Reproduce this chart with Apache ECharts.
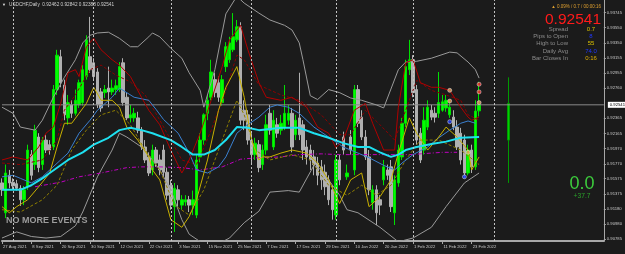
<!DOCTYPE html>
<html>
<head>
<meta charset="utf-8">
<script src="https://cdn.jsdelivr.net/npm/echarts@6/dist/echarts.min.js"></script>
<style>
  html, body { margin: 0; padding: 0; background: #1b1b1b; }
  #chart { width: 625px; height: 254px; }
</style>
</head>
<body>
<div id="chart"></div>
<script>
// USDCHF Daily, one row per bar: [open, high, low, close]
var ohlc = [
  [0.9152,0.9158,0.9135,0.9143],[0.9113,0.9176,0.9106,0.9165],[0.9162,0.9169,0.9145,0.9152],[0.9153,0.9158,0.9143,0.9148],
  [0.9151,0.9156,0.9142,0.9145],[0.9145,0.9149,0.9122,0.9130],[0.9130,0.9148,0.9123,0.9143],[0.9147,0.9202,0.9143,0.9195],
  [0.9189,0.9195,0.9156,0.9162],[0.9176,0.9228,0.9169,0.9221],[0.9212,0.9217,0.9166,0.9172],[0.9176,0.9212,0.9169,0.9208],
  [0.9208,0.9215,0.9191,0.9195],[0.9202,0.9208,0.9189,0.9195],[0.9199,0.9280,0.9195,0.9274],[0.9274,0.9326,0.9267,0.9319],
  [0.9317,0.9326,0.9277,0.9283],[0.9280,0.9287,0.9234,0.9241],[0.9237,0.9267,0.9228,0.9257],[0.9254,0.9260,0.9237,0.9243],
  [0.9243,0.9274,0.9240,0.9260],[0.9254,0.9287,0.9250,0.9283],[0.9257,0.9306,0.9253,0.9300],[0.9291,0.9345,0.9287,0.9339],
  [0.9317,0.9369,0.9296,0.9300],[0.9309,0.9315,0.9287,0.9291],[0.9297,0.9302,0.9250,0.9254],[0.9271,0.9276,0.9245,0.9250],
  [0.9270,0.9280,0.9263,0.9274],[0.9276,0.9304,0.9251,0.9271],[0.9271,0.9287,0.9267,0.9276],[0.9274,0.9287,0.9267,0.9279],
  [0.9274,0.9310,0.9271,0.9304],[0.9309,0.9315,0.9253,0.9257],[0.9264,0.9270,0.9234,0.9237],[0.9237,0.9254,0.9231,0.9241],
  [0.9237,0.9250,0.9232,0.9243],[0.9237,0.9245,0.9217,0.9221],[0.9221,0.9225,0.9195,0.9199],[0.9199,0.9208,0.9178,0.9182],
  [0.9186,0.9192,0.9161,0.9165],[0.9169,0.9202,0.9162,0.9195],[0.9195,0.9199,0.9173,0.9178],[0.9182,0.9189,0.9162,0.9169],
  [0.9195,0.9202,0.9161,0.9166],[0.9166,0.9172,0.9130,0.9136],[0.9149,0.9156,0.9117,0.9123],[0.9121,0.9152,0.9088,0.9145],
  [0.9143,0.9149,0.9121,0.9130],[0.9123,0.9136,0.9117,0.9130],[0.9127,0.9136,0.9122,0.9130],[0.9130,0.9135,0.9114,0.9123],
  [0.9123,0.9142,0.9110,0.9130],[0.9110,0.9189,0.9106,0.9182],[0.9186,0.9217,0.9179,0.9208],[0.9208,0.9243,0.9202,0.9241],
  [0.9243,0.9267,0.9234,0.9260],[0.9264,0.9313,0.9260,0.9297],[0.9287,0.9296,0.9264,0.9270],[0.9283,0.9291,0.9258,0.9264],
  [0.9257,0.9293,0.9253,0.9287],[0.9304,0.9336,0.9297,0.9330],[0.9313,0.9343,0.9309,0.9335],[0.9326,0.9374,0.9323,0.9343],
  [0.9339,0.9365,0.9336,0.9356],[0.9356,0.9362,0.9228,0.9234],[0.9247,0.9260,0.9221,0.9234],[0.9241,0.9247,0.9202,0.9208],
  [0.9208,0.9217,0.9176,0.9189],[0.9189,0.9211,0.9182,0.9204],[0.9202,0.9208,0.9166,0.9172],[0.9176,0.9202,0.9169,0.9195],
  [0.9195,0.9241,0.9189,0.9228],[0.9243,0.9254,0.9215,0.9221],[0.9199,0.9247,0.9195,0.9234],[0.9228,0.9237,0.9211,0.9217],
  [0.9221,0.9241,0.9215,0.9230],[0.9225,0.9280,0.9221,0.9243],[0.9234,0.9254,0.9228,0.9243],[0.9243,0.9250,0.9192,0.9199],
  [0.9215,0.9241,0.9208,0.9234],[0.9237,0.9296,0.9208,0.9215],[0.9228,0.9234,0.9182,0.9195],[0.9199,0.9208,0.9176,0.9186],
  [0.9195,0.9202,0.9169,0.9182],[0.9186,0.9195,0.9162,0.9176],[0.9178,0.9186,0.9149,0.9162],[0.9173,0.9182,0.9143,0.9156],
  [0.9166,0.9176,0.9136,0.9147],[0.9156,0.9162,0.9123,0.9130],[0.9143,0.9149,0.9104,0.9117],[0.9110,0.9189,0.9104,0.9182],
  [0.9182,0.9189,0.9149,0.9156],[0.9212,0.9219,0.9189,0.9195],[0.9160,0.9176,0.9156,0.9165],[0.9212,0.9221,0.9189,0.9195],
  [0.9169,0.9280,0.9162,0.9274],[0.9274,0.9280,0.9225,0.9230],[0.9238,0.9247,0.9208,0.9212],[0.9212,0.9221,0.9182,0.9186],
  [0.9186,0.9195,0.9136,0.9143],[0.9126,0.9149,0.9117,0.9143],[0.9143,0.9149,0.9097,0.9113],[0.9130,0.9136,0.9110,0.9123],
  [0.9156,0.9182,0.9149,0.9173],[0.9169,0.9176,0.9156,0.9162],[0.9173,0.9182,0.9114,0.9121],[0.9113,0.9162,0.9097,0.9156],
  [0.9152,0.9202,0.9147,0.9195],[0.9186,0.9237,0.9182,0.9230],[0.9230,0.9313,0.9225,0.9304],[0.9300,0.9339,0.9293,0.9313],
  [0.9313,0.9319,0.9264,0.9270],[0.9274,0.9280,0.9202,0.9208],[0.9217,0.9224,0.9178,0.9182],[0.9195,0.9251,0.9189,0.9234],
  [0.9225,0.9260,0.9221,0.9251],[0.9247,0.9254,0.9234,0.9238],[0.9243,0.9251,0.9231,0.9238],[0.9243,0.9297,0.9237,0.9257],
  [0.9247,0.9267,0.9245,0.9258],[0.9250,0.9267,0.9245,0.9260],[0.9241,0.9260,0.9237,0.9251],[0.9238,0.9247,0.9221,0.9225],
  [0.9225,0.9234,0.9195,0.9199],[0.9217,0.9224,0.9176,0.9182],[0.9208,0.9215,0.9158,0.9165],[0.9165,0.9202,0.9162,0.9195],
  [0.9195,0.9202,0.9165,0.9173],[0.9173,0.9260,0.9169,0.9246],[0.92462,0.92842,0.92388,0.92541]
];
var lastClose = 0.92541;
var slotCount = 165;           // bars + empty future slots on the time axis
var projIndex = 138;           // the lone projected bar on the right
var projBar = [0.9208, 0.9290, 0.9152, 0.9256];   // open, high, low, close

var xLabels = ['27 Aug 2021','8 Sep 2021','20 Sep 2021','30 Sep 2021','12 Oct 2021','22 Oct 2021',
  '3 Nov 2021','15 Nov 2021','25 Nov 2021','7 Dec 2021','17 Dec 2021','29 Dec 2021','10 Jan 2022',
  '20 Jan 2022','1 Feb 2022','11 Feb 2022','23 Feb 2022'];
var yTicks = [0.90785,0.90980,0.91180,0.91375,0.91575,0.91770,0.91970,0.92165,0.92365,
  0.92760,0.92955,0.93155,0.93350,0.93550,0.93745];
var monthSeparators = [3, 25, 46, 68, 91, 112, 134];

// indicator lines as [bar index, price]
var bbUpper = [[0,.9251],[3,.9243],[5,.9225],[9,.9221],[11,.9234],[14,.9264],[17,.9290],[20,.9313],[22,.9335],
  [24,.9345],[26,.9348],[29,.9349],[32,.9341],[35,.9330],[37,.9330],[40,.9343],[41,.9348],[43,.9343],[46,.9328],
  [49,.9315],[51,.9296],[54,.9273],[55,.9251],[58,.9300],[61,.9373],[64,.9396],[66,.9387],[70,.9374],[73,.9365],
  [77,.9358],[79,.9352],[81,.9335],[82,.9313],[84,.9266],[86,.9261],[89,.9274],[92,.9270],[95,.9263],[98,.9260],
  [102,.9254],[104,.9250],[108,.9300],[110,.9310],[113,.9311],[117,.9315],[122,.9323],[124,.9322],[127,.9310],
  [129,.9300],[130,.9289]];
var bbLower = [[0,.9080],[4,.9088],[8,.9082],[12,.9080],[16,.9082],[20,.9096],[22,.9114],[26,.9160],[30,.9195],
  [32,.9217],[34,.9212],[38,.9199],[41,.9182],[43,.9169],[46,.9143],[49,.9104],[51,.9085],[55,.9072],[58,.9070],
  [62,.9080],[66,.9100],[70,.9115],[73,.9140],[78,.9142],[81,.9140],[85,.9175],[87,.9169],[89,.9156],[92,.9136],
  [94,.9117],[97,.9113],[103,.9094],[108,.9075],[112,.9080],[117,.9094],[121,.9121],[126,.9152],[130,.9165]];
var redFast = [[0,.9182],[3,.9186],[7,.9182],[10,.9199],[12,.9217],[14,.9225],[16,.9256],[18,.9296],[20,.9300],
  [21,.9291],[23,.9330],[25,.9341],[27,.9326],[30,.9313],[32,.9306],[35,.9291],[38,.9264],[40,.9247],[43,.9228],
  [46,.9195],[49,.9165],[51,.9182],[54,.9217],[57,.9260],[60,.9304],[62,.9339],[65,.9358],[67,.9326],[70,.9283],
  [72,.9264],[76,.9260],[79,.9264],[83,.9251],[86,.9225],[89,.9217],[91,.9198],[93,.9208],[96,.9247],[99,.9256],
  [101,.9230],[104,.9195],[107,.9195],[108,.9251],[110,.9309],[112,.9313],[114,.9283],[117,.9277],[119,.9277],
  [122,.9273],[125,.9251],[127,.9238],[128,.9234],[130,.9238]];
var redSlow = [[0,.9178],[5,.9176],[11,.9182],[15,.9208],[17,.9247],[20,.9267],[24,.9300],[27,.9306],[31,.9293],
  [35,.9284],[39,.9267],[43,.9234],[46,.9208],[49,.9182],[53,.9176],[57,.9221],[61,.9273],[64,.9319],[66,.9313],
  [70,.9280],[76,.9267],[81,.9260],[87,.9241],[92,.9215],[95,.9215],[99,.9247],[103,.9228],[107,.9208],[110,.9247],
  [113,.9286],[117,.9273],[121,.9267],[125,.9260],[127,.9241],[130,.9234]];
var yellowFast = [[0,.9121],[2,.9113],[4,.9121],[7,.9130],[10,.9147],[13,.9165],[15,.9199],[17,.9230],[19,.9230],
  [21,.9243],[23,.9256],[25,.9277],[27,.9260],[30,.9260],[32,.9251],[34,.9225],[37,.9208],[40,.9186],[41,.9169],
  [43,.9156],[46,.9104],[49,.9094],[51,.9108],[53,.9130],[56,.9182],[59,.9247],[61,.9277],[64,.9304],[66,.9264],
  [68,.9208],[70,.9182],[71,.9186],[73,.9186],[76,.9191],[79,.9195],[83,.9191],[86,.9178],[89,.9156],[92,.9125],
  [95,.9156],[98,.9165],[100,.9121],[103,.9134],[106,.9156],[108,.9191],[111,.9237],[113,.9217],[116,.9195],
  [119,.9212],[121,.9225],[124,.9212],[127,.9195],[128,.9169],[130,.9186]];
var yellowSlow = [[0,.9117],[5,.9114],[11,.9130],[15,.9149],[19,.9195],[23,.9221],[27,.9241],[31,.9247],[35,.9228],
  [39,.9195],[43,.9169],[47,.9123],[51,.9110],[55,.9143],[60,.9208],[64,.9260],[66,.9241],[69,.9195],[73,.9182],
  [79,.9189],[84,.9182],[89,.9149],[94,.9136],[98,.9149],[102,.9136],[106,.9149],[110,.9182],[114,.9208],[119,.9208],
  [125,.9195],[130,.9176]];
var blueMid = [[0,.9160],[3,.9162],[5,.9158],[8,.9152],[11,.9160],[18,.9191],[21,.9217],[24,.9234],[26,.9247],
  [30,.9264],[32,.9276],[33,.9273],[36,.9264],[40,.9260],[42,.9248],[44,.9235],[48,.9217],[51,.9191],[53,.9169],
  [56,.9165],[59,.9173],[61,.9186],[64,.9217],[66,.9225],[70,.9238],[73,.9251],[75,.9254],[78,.9251],[81,.9243],
  [85,.9225],[89,.9212],[93,.9199],[97,.9191],[100,.9185],[104,.9175],[107,.9169],[109,.9178],[112,.9189],[116,.9199],
  [119,.9211],[122,.9221],[125,.9230],[127,.9233],[129,.9230]];
var cyanMa = [[0,.9143],[5,.9143],[8,.9149],[11,.9158],[13,.9165],[18,.9182],[22,.9192],[25,.9202],[29,.9211],
  [32,.9221],[35,.9224],[38,.9221],[41,.9217],[46,.9208],[49,.9199],[52,.9189],[55,.9189],[58,.9195],[61,.9208],
  [64,.9225],[67,.9224],[70,.9221],[76,.9224],[81,.9224],[85,.9217],[89,.9211],[93,.9204],[97,.9199],[100,.9199],
  [103,.9192],[106,.9186],[108,.9189],[110,.9195],[113,.9199],[117,.9203],[121,.9206],[125,.9211],[130,.9212]];
var magentaMa = [[9,.9147],[16,.9153],[21,.9160],[27,.9165],[34,.9172],[38,.9173],[43,.9173],[49,.9172],[54,.9169],
  [60,.9173],[65,.9183],[70,.9185],[76,.9186],[81,.9189],[87,.9190],[92,.9189],[100,.9189],[111,.9189],[120,.9192],
  [124,.9192]];

// signal dots near the end
var blueDots = [[122,.9232],[126,.9160]];
var orangeDots = [[122,.9273],[122,.9259],[127,.9192],[130,.9257]];
var redDots = [[130,.9281],[130,.9271]];

var sans = "'Liberation Sans',Arial,sans-serif";

var chart = echarts.init(document.getElementById('chart'));

var cats = [];
for (var i = 0; i < slotCount; i++) cats.push(String(i));

var candleData = ohlc.map(function (r) { return [r[0], r[3], r[2], r[1]]; });
var projData = cats.map(function (c, i) {
  return i === projIndex ? [projBar[0], projBar[3], projBar[2], projBar[1]] : '-';
});

function showLabel(idx) { return idx % 8 === 0 && idx / 8 < xLabels.length; }

function lineSeries(data, color, width, type) {
  return {
    type: 'line', data: data, symbol: 'none', silent: true,
    lineStyle: { color: color, width: width, type: type || 'solid' }
  };
}

function dotSeries(data, color) {
  return {
    type: 'scatter', data: data, symbolSize: 4, silent: true, z: 5,
    itemStyle: { color: color, borderColor: '#f0f0f0', borderWidth: 0.6 }
  };
}

var sepLines = monthSeparators.map(function (s) {
  return { xAxis: s, lineStyle: { color: '#c4c4c4', type: [2, 2], width: 1 }, label: { show: false } };
});

var option = {
  backgroundColor: '#1b1b1b',
  animation: false,
  grid: { left: 1, right: 21, top: 0, bottom: 13 },
  xAxis: {
    type: 'category', data: cats, boundaryGap: false,
    axisLine: { lineStyle: { color: '#a8a8a8', width: 2 } },
    axisTick: { show: true, interval: function (i) { return showLabel(i); }, length: 3, lineStyle: { color: '#a8a8a8' } },
    axisLabel: {
      interval: function (i) { return showLabel(i); },
      formatter: function (v, i) { return xLabels[i / 8]; },
      color: '#c8c8c8', fontSize: 4.2, fontFamily: sans, align: 'left', margin: 4, padding: [0, 0, 0, 1]
    },
    splitLine: { show: false }
  },
  yAxis: {
    type: 'value', position: 'right', min: 0.90761, max: 0.93911, scale: true,
    axisLine: { show: true, lineStyle: { color: '#a8a8a8' } },
    axisTick: { show: true, length: 2, customValues: yTicks, lineStyle: { color: '#a8a8a8' } },
    axisLabel: {
      customValues: yTicks, color: '#c8c8c8', fontSize: 4.2, fontFamily: sans, margin: 3,
      formatter: function (v) { return v.toFixed(5); }
    },
    splitLine: { show: false }
  },
  series: [
    {
      type: 'candlestick', data: candleData, barWidth: 3,
      itemStyle: { color: '#00ff00', color0: '#b0b0b0', borderColor: '#00e000', borderColor0: '#b0b0b0', borderWidth: 1 },
      markLine: {
        silent: true, symbol: ['none', 'none'], animation: false,
        data: sepLines
      }
    },
    {
      type: 'candlestick', data: projData, barWidth: 2,
      itemStyle: { color: '#00d000', color0: '#00d000', borderColor: '#009a00', borderColor0: '#009a00', borderWidth: 1 }
    },
    {
      // current price line with its white price tag on the axis
      type: 'line', data: [[0, lastClose], [slotCount - 1, lastClose]], symbol: 'none', silent: true,
      lineStyle: { color: '#8a8a8a', width: 1 },
      endLabel: {
        show: true, formatter: lastClose.toFixed(5), distance: 4,
        backgroundColor: '#ffffff', color: '#000000', fontSize: 4.2, fontFamily: sans, padding: [1, 2]
      }
    },
    lineSeries(bbUpper, '#9a9a9a', 1),
    lineSeries(bbLower, '#9a9a9a', 1),
    lineSeries(magentaMa, '#c000c0', 1, [4, 2, 1, 2]),
    lineSeries(redSlow, '#8b0000', 1, [3, 2]),
    lineSeries(yellowSlow, '#8f7f00', 1, [3, 2]),
    lineSeries(blueMid, '#3a80d0', 1),
    lineSeries(redFast, '#b00000', 1),
    lineSeries(yellowFast, '#c8b000', 1),
    lineSeries(cyanMa, '#1ee0f0', 2),
    dotSeries(blueDots, '#2040ff'),
    dotSeries(orangeDots, '#e8a060'),
    dotSeries(redDots, '#ff3030')
  ],
  graphic: [
    { type: 'text', x: 2, y: 5, style: { text: '\u25BC', fill: '#e0e0e0', font: '4px ' + sans, verticalAlign: 'middle' } },
    { type: 'text', x: 9, y: 5, style: { text: 'USDCHF,Daily  0.92462 0.92842 0.92388 0.92541', fill: '#d0d0d0', font: '4.7px ' + sans, verticalAlign: 'middle' } },
    { type: 'text', x: 601, y: 7, style: { text: '\u25B2 0.09% / 0.7 / 00:00:16', fill: '#e0a030', font: '4.5px ' + sans, align: 'right', verticalAlign: 'middle' } },
    { type: 'text', x: 601, y: 19.5, style: { text: '0.92541', fill: '#ff1a1a', font: '15.5px ' + sans, align: 'right', verticalAlign: 'middle' } },
    { type: 'text', x: 568, y: 29, style: { text: 'Spread', fill: '#8c8c8c', font: '6px ' + sans, align: 'right', verticalAlign: 'middle' } },
    { type: 'text', x: 568, y: 36.5, style: { text: 'Pips to Open', fill: '#8c8c8c', font: '6px ' + sans, align: 'right', verticalAlign: 'middle' } },
    { type: 'text', x: 568, y: 43.5, style: { text: 'High to Low', fill: '#8c8c8c', font: '6px ' + sans, align: 'right', verticalAlign: 'middle' } },
    { type: 'text', x: 568, y: 51, style: { text: 'Daily Avg', fill: '#8c8c8c', font: '6px ' + sans, align: 'right', verticalAlign: 'middle' } },
    { type: 'text', x: 568, y: 58.5, style: { text: 'Bar Closes In', fill: '#8c8c8c', font: '6px ' + sans, align: 'right', verticalAlign: 'middle' } },
    { type: 'text', x: 591, y: 29, style: { text: '0.7', fill: '#d8c000', font: '6px ' + sans, align: 'center', verticalAlign: 'middle' } },
    { type: 'text', x: 591, y: 36.5, style: { text: '8', fill: '#2038ff', font: '6px ' + sans, align: 'center', verticalAlign: 'middle' } },
    { type: 'text', x: 591, y: 43.5, style: { text: '55', fill: '#d8c000', font: '6px ' + sans, align: 'center', verticalAlign: 'middle' } },
    { type: 'text', x: 591, y: 51, style: { text: '74.0', fill: '#2038ff', font: '6px ' + sans, align: 'center', verticalAlign: 'middle' } },
    { type: 'text', x: 591, y: 58.5, style: { text: '0:16', fill: '#e0b000', font: '6px ' + sans, align: 'center', verticalAlign: 'middle' } },
    { type: 'text', x: 582, y: 184, style: { text: '0.0', fill: '#3ccc3c', font: '18px ' + sans, align: 'center', verticalAlign: 'middle' } },
    { type: 'text', x: 582, y: 196, style: { text: '+37.7', fill: '#2aa02a', font: '6.7px ' + sans, align: 'center', verticalAlign: 'middle' } },
    { type: 'text', x: 6, y: 220.5, style: { text: 'NO MORE EVENTS', fill: '#9c9c9c', font: 'bold 9px ' + sans, verticalAlign: 'middle' } }
  ]
};

chart.setOption(option);
</script>
</body>
</html>
